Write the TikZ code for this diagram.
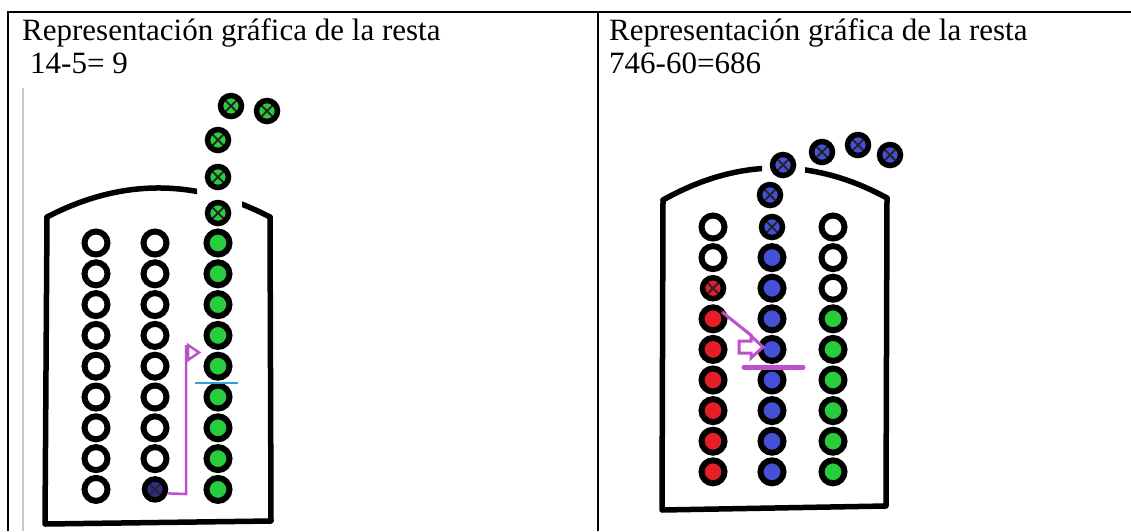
\documentclass[tikz,border=0pt]{standalone}
\usepackage{fontspec}
\setmainfont{Liberation Serif}
\usetikzlibrary{arrows.meta}
\definecolor{bgreen}{RGB}{40,205,60}
\definecolor{bred}{RGB}{230,30,40}
\definecolor{bblue}{RGB}{70,80,215}
\definecolor{dblue}{RGB}{45,45,140}
\definecolor{purp}{RGB}{190,80,205}
\definecolor{cyanl}{RGB}{50,160,215}
\definecolor{grayl}{RGB}{200,200,200}
\tikzset{
 bead/.style={circle, draw=black, line width=6pt, minimum size=23pt, inner sep=0pt, fill=#1},
 bead/.default=white,
 xbead/.style={circle, draw=black, line width=5.5pt, minimum size=21pt, inner sep=0pt, fill=#1,
   path picture={\draw[black!85,line width=2pt]
     (path picture bounding box.north west)--(path picture bounding box.south east)
     (path picture bounding box.north east)--(path picture bounding box.south west);}},
 framepath/.style={line width=5.5pt, line join=round, line cap=round},
 tline/.style={line width=1.5pt},
 lbl/.style={anchor=base west, inner sep=0pt, font=\fontsize{31}{31}\selectfont},
 purpline/.style={draw=purp, line width=2.5pt},
}
\begin{document}
\begin{tikzpicture}[x=1pt,y=-1pt]
\useasboundingbox (0,0) rectangle (1131,531);
\fill[white] (0,0) rectangle (1131,531);
% table
\draw[tline] (8,531) -- (8,12) -- (1131,12);
\draw[tline] (598,12) -- (598,531);
\draw[grayl, line width=1.5pt] (23,88) -- (23,531);
% texts
\node[lbl] (t1) at (22,40) {Representación gráfica de la resta};
\node[lbl] (t2) at (30,73) {14-5= 9};
\node[lbl] (t3) at (609,40) {Representación gráfica de la resta};
\node[lbl] (t4) at (609,73) {746-60=686};
% ---------- left abacus ----------
\draw[framepath] (47,217) -- (45,524) -- (271,521) -- (270,217);
\begin{scope}
 \clip (0,150) rectangle (197,260);
 \draw[framepath] (47,217) .. controls (121.3,178.3) and (195.7,178.3) .. (270,217);
\end{scope}
\begin{scope}
 \clip (242,150) rectangle (300,260);
 \draw[framepath] (47,217) .. controls (121.3,178.3) and (195.7,178.3) .. (270,217);
\end{scope}
\foreach \i in {1,...,9} {
  \node[bead] (La\i) at (96,{243+30.8*(\i-1)}) {};
  \node[bead=bgreen] (Lc\i) at (218,{243+30.8*(\i-1)}) {};
}
\foreach \i in {1,...,8} {
  \node[bead] (Lb\i) at (155,{243+30.8*(\i-1)}) {};
}
\node[xbead=dblue] (Lb9) at (155,489.4) {};
\node[xbead=bgreen] (Lx1) at (218,213) {};
\node[xbead=bgreen] (Lx2) at (218,177) {};
\node[xbead=bgreen] (Lx3) at (218,140) {};
\node[xbead=bgreen] (Lx4) at (231,106) {};
\node[xbead=bgreen] (Lx5) at (267,111) {};
\coordinate (Lturn1) at (186,494);
\coordinate (Ltop) at (186,345);
\draw[purpline] ([yshift=-4pt]Lb9.east) -- (Lturn1) -- (Ltop);
\draw[purpline, line width=2.5pt, fill=white, line join=miter]
  (188,345) -- (199,352.5) -- (188,360) -- cycle;
\coordinate (Lcy1) at (195,383);
\coordinate (Lcy2) at (238,383);
\draw[cyanl, line width=1.5pt] (Lcy1) -- (Lcy2);
% ---------- right abacus ----------
\draw[framepath] (663,200) -- (662,510) -- (886,506) -- (887,198);
\begin{scope}
 \clip (600,130) rectangle (762,230);
 \draw[framepath] (663,200) .. controls (737.7,158) and (812.3,157.3) .. (887,198);
\end{scope}
\begin{scope}
 \clip (805,130) rectangle (950,230);
 \draw[framepath] (663,200) .. controls (737.7,158) and (812.3,157.3) .. (887,198);
\end{scope}
\foreach \i in {1,2} { \node[bead] (Ra\i) at (713,{227+30.6*(\i-1)}) {}; }
\node[xbead=bred] (Ra3) at (713,288.2) {};
\foreach \i in {4,...,9} { \node[bead=bred] (Ra\i) at (713,{227+30.6*(\i-1)}) {}; }
\node[xbead=bblue] (Rb1) at (772,227) {};
\foreach \i in {2,...,9} { \node[bead=bblue] (Rb\i) at (772,{227+30.6*(\i-1)}) {}; }
\foreach \i in {1,2,3} { \node[bead] (Rc\i) at (833,{227+30.6*(\i-1)}) {}; }
\foreach \i in {4,...,9} { \node[bead=bgreen] (Rc\i) at (833,{227+30.6*(\i-1)}) {}; }
\node[xbead=bblue] (Rx1) at (770,195) {};
\node[xbead=bblue] (Rx2) at (783,165) {};
\node[xbead=bblue] (Rx3) at (822,152) {};
\node[xbead=bblue] (Rx4) at (858,145) {};
\node[xbead=bblue] (Rx5) at (890,155) {};
\coordinate (Rd1) at (722,312);
\coordinate (Rd2) at (752,336);
\draw[purpline, line width=3pt] (Rd1) -- (Rd2);
\draw[purpline, line width=3pt, fill=white, line join=miter]
  (739,341) -- (751,341) -- (751,336) -- (763,347) -- (751,358) -- (751,353) -- (739,353) -- cycle;
\coordinate (Rh1) at (744,367);
\coordinate (Rh2) at (803,367);
\draw[purpline, line width=5pt, line cap=round] (Rh1) -- (Rh2);
\end{tikzpicture}
\end{document}
